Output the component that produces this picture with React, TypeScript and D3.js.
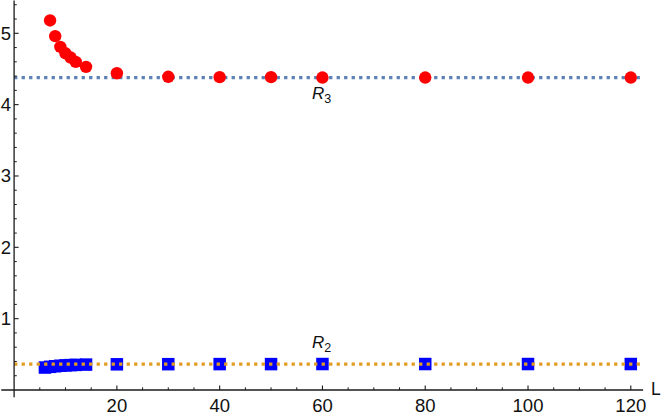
import React from "react";
import * as d3 from "d3";

const R3_L = [7, 8, 9, 10, 11, 12, 14, 20, 30, 40, 50, 60, 80, 100, 120];
const R3_V = [5.18, 4.96, 4.81, 4.72, 4.66, 4.6, 4.53, 4.44, 4.39, 4.385, 4.385, 4.38, 4.38, 4.38, 4.38];
const R2_L = [6, 7, 8, 9, 10, 11, 12, 14, 20, 30, 40, 50, 60, 80, 100, 120];
const R2_V = [0.315, 0.325, 0.333, 0.34, 0.345, 0.349, 0.352, 0.356, 0.36, 0.362, 0.363, 0.363, 0.364, 0.364, 0.364, 0.364];
const R3_LIMIT = 4.38;
const R2_LIMIT = 0.364;
const X_TICKS = [20, 40, 60, 80, 100, 120];
const Y_TICKS = [1, 2, 3, 4, 5];

const W = 664;
const H = 416;

export default function App() {
  const x = d3.scaleLinear().domain([0, 120]).range([14.1, 630.8]);
  const y = d3.scaleLinear().domain([0, 5]).range([390, 33.3]);
  const xMin = -2.5, xMax = 122.4, yMin = -0.1, yMax = 5.46;
  const xMinor = d3.range(5, 121, 5).filter((v) => v % 20 !== 0);
  const yMinor = d3.range(0.2, 5.45, 0.2).filter((v) => Math.abs(v - Math.round(v)) > 1e-6);
  const font = "'Liberation Sans', Arial, sans-serif";
  const axisColor = "#1a1a1a";
  const sq = 12.5;
  return (
    <svg width={W} height={H} style={{ position: "absolute", left: 0, top: 0 }} fontFamily={font}>
      <rect width={W} height={H} fill="white" />
      <line x1={x(0)} x2={x(xMax)} y1={y(R3_LIMIT)} y2={y(R3_LIMIT)} stroke="#5e81b5" strokeWidth={3.2} strokeDasharray="3.3,4.2" />
      {R3_L.map((L, i) => (
        <circle key={"r" + i} cx={x(L)} cy={y(R3_V[i])} r={6.2} fill="#ff0000" />
      ))}
      {R2_L.map((L, i) => (
        <rect key={"b" + i} x={x(L) - sq / 2} y={y(R2_V[i]) - sq / 2} width={sq} height={sq} fill="#0000ff" />
      ))}
      <line x1={x(0)} x2={x(xMax)} y1={y(R2_LIMIT)} y2={y(R2_LIMIT)} stroke="#e19c24" strokeWidth={3.2} strokeDasharray="3.3,4.2" />
      <line x1={x(xMin)} x2={x(xMax)} y1={y(0)} y2={y(0)} stroke={axisColor} strokeWidth={1.3} />
      <line x1={x(0)} x2={x(0)} y1={y(yMin)} y2={y(yMax)} stroke={axisColor} strokeWidth={1.3} />
      {X_TICKS.map((t) => (
        <g key={"xt" + t}>
          <line x1={x(t)} x2={x(t)} y1={y(0)} y2={y(0) - 4.5} stroke={axisColor} strokeWidth={1.1} />
          <text x={x(t)} y={411.5} textAnchor="middle" fontSize={18.5} fill="#111">{t}</text>
        </g>
      ))}
      {xMinor.map((t) => (
        <line key={"xm" + t} x1={x(t)} x2={x(t)} y1={y(0)} y2={y(0) - 2.7} stroke={axisColor} strokeWidth={1} />
      ))}
      {Y_TICKS.map((t) => (
        <g key={"yt" + t}>
          <line x1={x(0)} x2={x(0) + 4.5} y1={y(t)} y2={y(t)} stroke={axisColor} strokeWidth={1.1} />
          <text x={11} y={y(t) + 6.5} textAnchor="end" fontSize={18.5} fill="#111">{t}</text>
        </g>
      ))}
      {yMinor.map((t) => (
        <line key={"ym" + t.toFixed(1)} x1={x(0)} x2={x(0) + 2.7} y1={y(t)} y2={y(t)} stroke={axisColor} strokeWidth={1} />
      ))}
      <text x={651} y={395} fontSize={17.5} fill="#111">L</text>
      <text x={x(60) - 10.5} y={y(R3_LIMIT) + 21} fontSize={17} fontStyle="italic" fill="#111">
        R<tspan fontStyle="normal" fontSize={12.5} dy={4}>3</tspan>
      </text>
      <text x={x(60) - 10.5} y={y(R2_LIMIT) - 16} fontSize={17} fontStyle="italic" fill="#111">
        R<tspan fontStyle="normal" fontSize={12.5} dy={4}>2</tspan>
      </text>
    </svg>
  );
}
